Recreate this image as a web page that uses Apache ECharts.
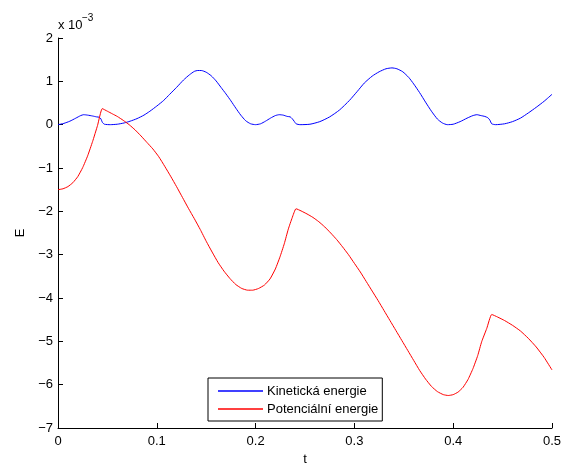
<!DOCTYPE html>
<html>
<head>
<meta charset="utf-8">
<script src="https://cdn.jsdelivr.net/npm/echarts@6/dist/echarts.min.js"></script>
<style>html,body{margin:0;padding:0;background:#fff;overflow:hidden}#c{width:565px;height:465px}</style>
</head>
<body>
<div id="c"></div>
<script>
// values in units of 1e-3
var kinT = [0,0.006,0.012,0.018,0.023,0.026,0.03,0.035,0.039,0.042,0.0435,0.045,0.047,0.053,0.06,0.067,0.073,0.08,0.087,0.093,0.1,0.107,0.113,0.12,0.127,0.133,0.138,0.1415,0.145,0.15,0.155,0.16,0.165,0.17,0.175,0.18,0.185,0.19,0.195,0.2,0.205,0.21,0.215,0.22,0.224,0.228,0.232,0.235,0.237,0.239,0.241,0.245,0.255,0.265,0.275,0.285,0.295,0.303,0.31,0.318,0.325,0.332,0.338,0.343,0.349,0.355,0.36,0.366,0.372,0.378,0.384,0.389,0.394,0.4,0.407,0.414,0.42,0.424,0.428,0.432,0.435,0.437,0.439,0.443,0.452,0.46,0.468,0.476,0.484,0.492,0.5];
var kinetic = [0,0.03,0.08,0.15,0.21,0.23,0.22,0.2,0.18,0.17,0.13,0.05,0.01,0,0.01,0.04,0.08,0.14,0.22,0.31,0.43,0.56,0.7,0.86,1.03,1.15,1.23,1.25,1.25,1.21,1.13,1.01,0.86,0.71,0.55,0.38,0.22,0.09,0.02,0,0.02,0.08,0.15,0.21,0.23,0.22,0.19,0.18,0.14,0.08,0.02,0,0.01,0.07,0.18,0.34,0.56,0.77,0.96,1.12,1.22,1.29,1.31,1.29,1.22,1.09,0.94,0.74,0.52,0.31,0.13,0.04,0,0.01,0.07,0.15,0.21,0.23,0.21,0.19,0.16,0.11,0.02,0,0.02,0.07,0.15,0.27,0.4,0.54,0.7];
var potT = [0,0.005,0.01,0.015,0.02,0.025,0.03,0.035,0.04,0.0448,0.05,0.055,0.06,0.066,0.072,0.078,0.084,0.09,0.096,0.102,0.108,0.114,0.12,0.126,0.132,0.138,0.144,0.15,0.156,0.162,0.168,0.174,0.18,0.186,0.192,0.197,0.203,0.209,0.2146,0.22,0.2247,0.229,0.2331,0.237,0.2409,0.246,0.252,0.258,0.264,0.27,0.276,0.282,0.288,0.294,0.3,0.306,0.312,0.318,0.324,0.33,0.336,0.342,0.348,0.354,0.36,0.366,0.372,0.378,0.384,0.39,0.395,0.4,0.405,0.41,0.415,0.42,0.4248,0.4288,0.434,0.439,0.445,0.452,0.46,0.468,0.476,0.484,0.492,0.5];
var potential = [-1.5,-1.48,-1.43,-1.34,-1.2,-0.99,-0.72,-0.39,-0.02,0.37,0.31,0.25,0.19,0.1,0,-0.12,-0.26,-0.41,-0.56,-0.74,-0.96,-1.19,-1.43,-1.68,-1.93,-2.17,-2.42,-2.69,-2.94,-3.18,-3.38,-3.55,-3.69,-3.78,-3.82,-3.82,-3.78,-3.7,-3.56,-3.33,-3.05,-2.75,-2.41,-2.15,-1.94,-1.99,-2.06,-2.14,-2.24,-2.36,-2.5,-2.65,-2.82,-3.0,-3.2,-3.4,-3.62,-3.84,-4.06,-4.29,-4.52,-4.75,-4.98,-5.21,-5.44,-5.67,-5.87,-6.04,-6.16,-6.23,-6.25,-6.23,-6.17,-6.06,-5.88,-5.63,-5.33,-5.01,-4.7,-4.38,-4.44,-4.52,-4.63,-4.76,-4.93,-5.13,-5.37,-5.66];
var seriesNames = ['Kinetická energie','Potenciální energie'];
var xTicks = [0,0.1,0.2,0.3,0.4,0.5];
var yTicks = [-7,-6,-5,-4,-3,-2,-1,0,1,2];

function pairs(t,v){return t.map(function(x,i){return [x,v[i]];});}
var FONT = '"Liberation Sans", Arial, Helvetica, sans-serif';
var chart = echarts.init(document.getElementById('c'), null, {renderer:'canvas'});
var axisCommon = {
  axisLine:{show:true, onZero:false, lineStyle:{color:'#000', width:1}},
  axisTick:{show:true, inside:true, length:5, lineStyle:{color:'#000'}},
  splitLine:{show:false},
  nameTextStyle:{color:'#000', fontSize:13, fontFamily:FONT}
};
chart.setOption({
  animation:false,
  backgroundColor:'#fff',
  grid:{left:58, top:38, width:494, height:390, containLabel:false, outerBoundsMode:'none'},
  xAxis: Object.assign({}, axisCommon, {
    type:'value', min:xTicks[0], max:xTicks[xTicks.length-1], interval:0.1,
    name:'t', nameLocation:'middle', nameGap:23,
    axisLabel:{color:'#000', fontSize:13, fontFamily:FONT, margin:7,
      formatter:function(v){return String(+v.toFixed(1));}}
  }),
  yAxis: Object.assign({}, axisCommon, {
    type:'value', min:yTicks[0], max:yTicks[yTicks.length-1], interval:1,
    name:'E', nameLocation:'middle', nameGap:28, nameRotate:90,
    axisLabel:{color:'#000', fontSize:13, fontFamily:FONT, margin:5,
      formatter:function(v){return String(v).replace('-','\u2212');}}
  }),
  legend:{
    orient:'vertical', left:208, top:378,
    data:seriesNames,
    icon:'rect', itemWidth:45, itemHeight:1.5, itemGap:2,
    padding:[5,4,4,10],
    borderColor:'#000', borderWidth:1, backgroundColor:'#fff',
    borderRadius:0,
    textStyle:{color:'#000', fontSize:13, fontFamily:FONT, lineHeight:16, padding:[0,0,0,-1]}
  },
  graphic:[
    {type:'text', left:58, top:19, style:{text:'x 10', fill:'#000', font:'13px '+FONT}},
    {type:'text', left:82, top:13, style:{text:'\u22123', fill:'#000', font:'10px '+FONT}}
  ],
  series:[
    {name:seriesNames[0], type:'line', data:pairs(kinT,kinetic), showSymbol:false, symbol:'none',
     smooth:0.2, lineStyle:{color:'#0000ff', width:1}, itemStyle:{color:'#0000ff'}},
    {name:seriesNames[1], type:'line', data:pairs(potT,potential), showSymbol:false, symbol:'none',
     smooth:0.15, lineStyle:{color:'#ff0000', width:1}, itemStyle:{color:'#ff0000'}}
  ]
});
</script>
</body>
</html>
